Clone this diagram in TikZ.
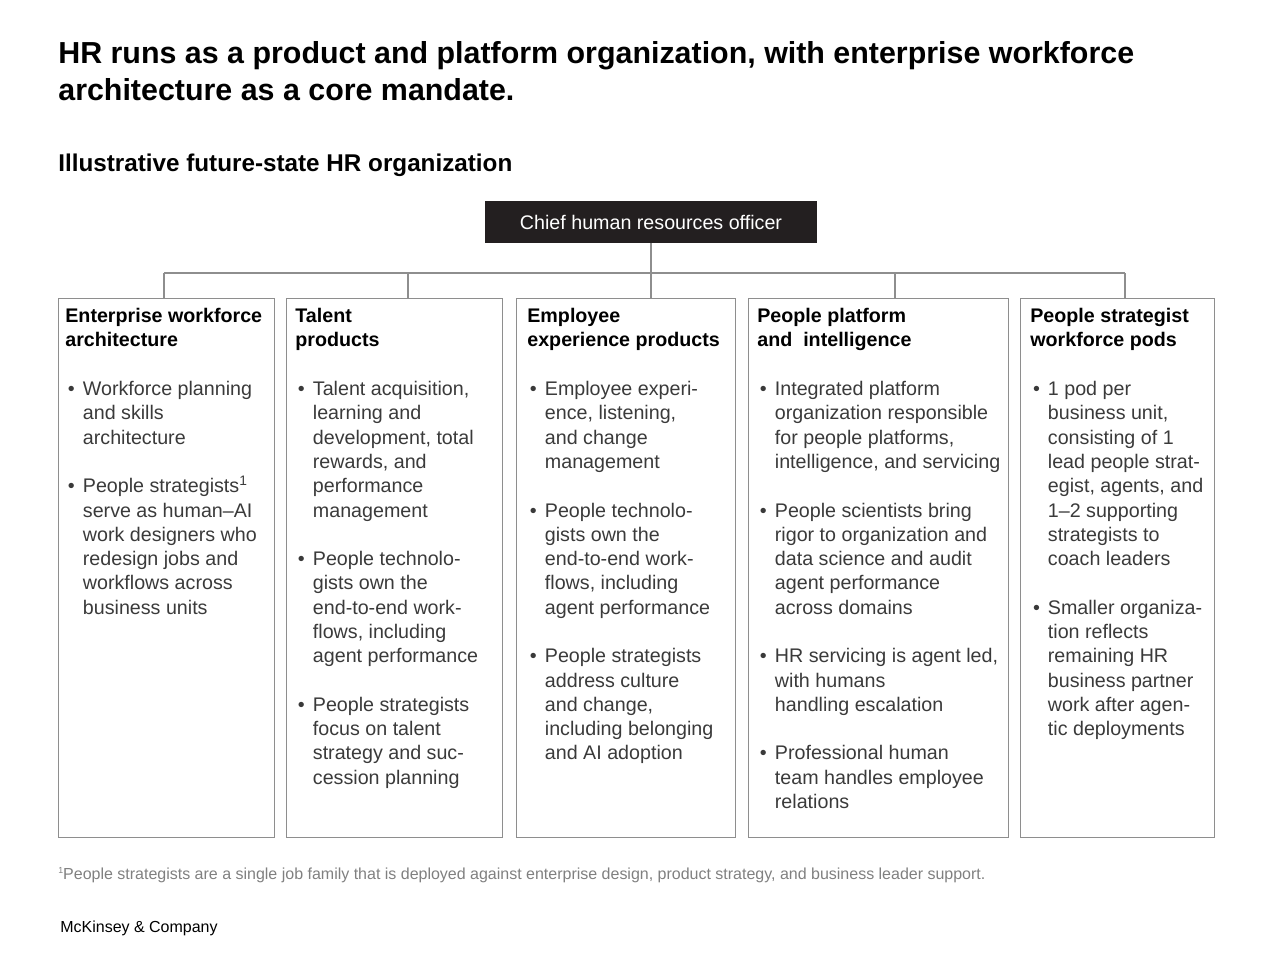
\documentclass[tikz,border=0pt]{standalone}
\usepackage{fontspec}
\setmainfont{Liberation Sans}
\usetikzlibrary{positioning,calc}
\definecolor{chrofill}{HTML}{231F20}
\definecolor{bodygray}{HTML}{3A3A3A}
\definecolor{rulegray}{HTML}{8E8E8E}
\definecolor{notegray}{HTML}{808080}
\newlength\gapl
\setlength\gapl{13.83pt}
\newcommand{\hd}[1]{{\bfseries\color{black}#1}}
\newcommand{\bul}{\hspace*{1.5pt}\makebox[8.5pt][l]{\textbullet}}
\newcommand{\ind}{\hspace*{10pt}}

\begin{document}
\begin{tikzpicture}[x=0.02cm, y=-0.02cm,
		link/.style = {draw=rulegray, line width=0.8pt},
		unit/.style = {draw=rulegray, line width=0.8pt, anchor=north west, minimum height=10.78cm, inner sep=0pt},
		txt/.style = {anchor=north west, align=left, inner sep=0pt, text=bodygray, font=\fontsize{11.2}{13.83}\selectfont}]
		\useasboundingbox (0,0) rectangle (1280,977);
		% headline
		\node (title) [anchor=north west, align=left, inner sep=0pt, font=\fontsize{17.3}{21}\selectfont\bfseries] at (58,41) {HR runs as a product and platform organization, with enterprise workforce\\architecture as a core mandate.};
		\node (sub) [anchor=north west, inner sep=0pt, font=\fontsize{13.8}{17}\selectfont\bfseries] at (58,154) {Illustrative future-state HR organization};
		% top of the chart
		\node (chro) [fill=chrofill, text=white, minimum width=6.64cm, minimum height=0.84cm, inner sep=0pt, font=\fontsize{11.2}{13.83}\selectfont] at (651,222) {Chief human resources officer};
		\node (b1) [unit, minimum width=4.32cm] at (58,298) {};
		\node (b2) [unit, minimum width=4.32cm] at (286,298) {};
		\node (b3) [unit, minimum width=4.38cm] at (516,298) {};
		\node (b4) [unit, minimum width=5.2cm] at (748,298) {};
		\node (b5) [unit, minimum width=3.88cm] at (1020,298) {};
		\coordinate (bus) at (651,273);
		\coordinate (d1) at (164,273);
		\coordinate (d2) at (408,273);
		\coordinate (d3) at (651,273);
		\coordinate (d4) at (895,273);
		\coordinate (d5) at (1125,273);
		\draw[link] (chro.south) -- (bus);
		\draw[link] (d1) -- (d5);
		\foreach \i in {1,...,5}
			\draw[link] (d\i) -- (d\i |- b\i.north);
		% box contents
		\node (t1) [txt] at ($(b1.north west)+(7,10)$) {\hd{Enterprise workforce}\\\hd{architecture}\\[\gapl]
			\bul Workforce planning\\\ind and skills\\\ind architecture\\[\gapl]
			\bul People strategists\textsuperscript{1}\\\ind serve as human--AI\\\ind work designers who\\\ind redesign jobs and\\\ind workflows across\\\ind business units};
		\node (t2) [txt] at ($(b2.north west)+(9,10)$) {\hd{Talent}\\\hd{products}\\[\gapl]
			\bul Talent acquisition,\\\ind learning and\\\ind development, total\\\ind rewards, and\\\ind performance\\\ind management\\[\gapl]
			\bul People technolo-\\\ind gists own the\\\ind end-to-end work-\\\ind flows, including\\\ind agent performance\\[\gapl]
			\bul People strategists\\\ind focus on talent\\\ind strategy and suc-\\\ind cession planning};
		\node (t3) [txt] at ($(b3.north west)+(11,10)$) {\hd{Employee}\\\hd{experience products}\\[\gapl]
			\bul Employee experi-\\\ind ence, listening,\\\ind and change\\\ind management\\[\gapl]
			\bul People technolo-\\\ind gists own the\\\ind end-to-end work-\\\ind flows, including\\\ind agent performance\\[\gapl]
			\bul People strategists\\\ind address culture\\\ind and change,\\\ind including belonging\\\ind and AI adoption};
		\node (t4) [txt] at ($(b4.north west)+(9,10)$) {\hd{People platform}\\\hd{and\ \ intelligence}\\[\gapl]
			\bul Integrated platform\\\ind organization responsible\\\ind for people platforms,\\\ind intelligence, and servicing\\[\gapl]
			\bul People scientists bring\\\ind rigor to organization and\\\ind data science and audit\\\ind agent performance\\\ind across domains\\[\gapl]
			\bul HR servicing is agent led,\\\ind with humans\\\ind handling escalation\\[\gapl]
			\bul Professional human\\\ind team handles employee\\\ind relations};
		\node (t5) [txt] at ($(b5.north west)+(10,10)$) {\hd{People strategist}\\\hd{workforce pods}\\[\gapl]
			\bul 1 pod per\\\ind business unit,\\\ind consisting of 1\\\ind lead people strat-\\\ind egist, agents, and\\\ind 1--2 supporting\\\ind strategists to\\\ind coach leaders\\[\gapl]
			\bul Smaller organiza-\\\ind tion reflects\\\ind remaining HR\\\ind business partner\\\ind work after agen-\\\ind tic deployments};
		% footer
		\node (note) [anchor=north west, inner sep=0pt, text=notegray, font=\fontsize{9.1}{11}\selectfont] at (58,867) {\raisebox{0.35em}{\tiny 1}People strategists are a single job family that is deployed against enterprise design, product strategy, and business leader support.};
		\node (brand) [anchor=north west, inner sep=0pt, font=\fontsize{9.1}{11}\selectfont] at (60,921) {McKinsey \& Company};
	\end{tikzpicture}
\end{document}
